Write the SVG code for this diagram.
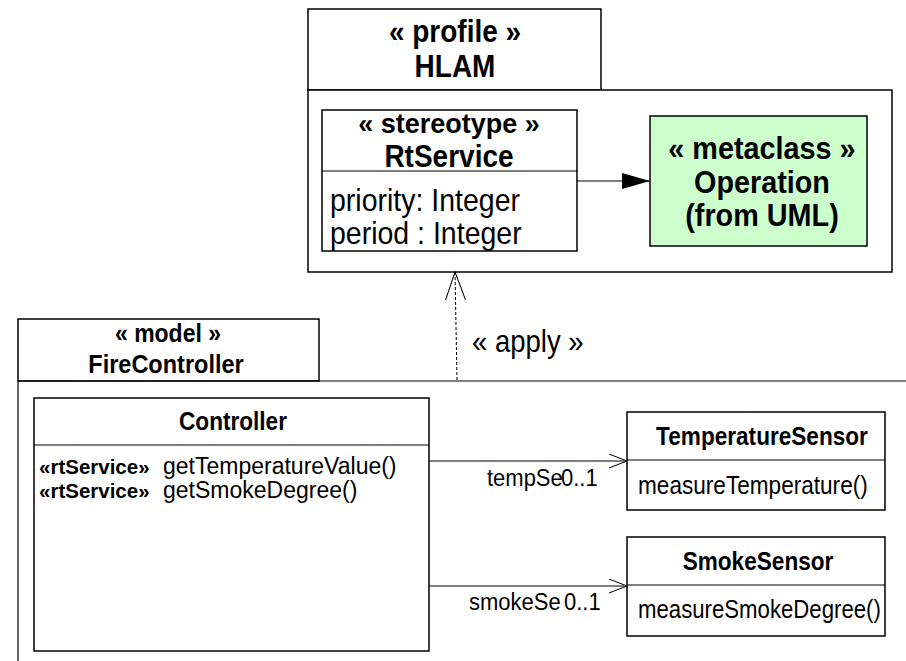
<svg xmlns="http://www.w3.org/2000/svg" width="906" height="661" viewBox="0 0 906 661">
<style>
.box{fill:#fff;stroke:#000;stroke-width:1.5}
.ln{stroke:#000;stroke-width:1.2;fill:none}
.t{font-family:"Liberation Sans",Arial,sans-serif;fill:#000;transform-box:fill-box;transform-origin:center;transform:scaleY(1.12)}
.n{transform:none}
.b{font-weight:bold}
.c{text-anchor:middle}
.m{font-size:22.6px}
</style>
<defs>
<marker id="tri" markerWidth="30" markerHeight="18" refX="28" refY="8" orient="auto" markerUnits="userSpaceOnUse">
<path d="M0,0 L28,8 L0,16 Z" fill="#000"/>
</marker>
<marker id="open" markerWidth="20" markerHeight="16" refX="18" refY="7" orient="auto" markerUnits="userSpaceOnUse">
<path d="M0,0 L18,7 L0,14" fill="none" stroke="#000" stroke-width="1"/>
</marker>
<marker id="openUp" markerWidth="30" markerHeight="22" refX="28" refY="10" orient="auto" markerUnits="userSpaceOnUse">
<path d="M0,0 L28,10 L0,20" fill="none" stroke="#000" stroke-width="1"/>
</marker>
</defs>

<g id="profile">
<rect class="box" x="308" y="9" width="293" height="81"/>
<rect class="box" x="308" y="90" width="584" height="182"/>
<text class="t b c" x="455" y="41" font-size="28">« profile »</text>
<text class="t b c" x="455" y="76" font-size="28">HLAM</text>
</g>

<g id="stereotype">
<rect class="box" x="322" y="110" width="255" height="141"/>
<line class="ln" x1="322" y1="171" x2="577" y2="171"/>
<text class="t n b c" x="449" y="133" font-size="27">« stereotype »</text>
<text class="t b c" x="449" y="166" font-size="28">RtService</text>
<text class="t" x="330" y="210" font-size="28.5">priority: Integer</text>
<text class="t" x="330" y="243" font-size="28.5">period : Integer</text>
</g>

<g id="metaclass">
<rect x="650" y="116" width="217" height="130" fill="#ccffcc" stroke="#000" stroke-width="1.5"/>
<text class="t b c" x="762" y="158" font-size="28.8">« metaclass »</text>
<text class="t b c" x="762" y="192" font-size="28.8">Operation</text>
<text class="t b c" x="762" y="225" font-size="28.8">(from UML)</text>
</g>

<g id="model">
<rect class="box" x="18" y="319" width="301" height="62"/>
<line class="ln" x1="18" y1="381" x2="906" y2="381"/>
<line class="ln" x1="18" y1="381" x2="18" y2="661"/>
<text class="t b c" x="168" y="341" font-size="23">« model »</text>
<text class="t b c" x="166" y="372" font-size="23.5">FireController</text>
</g>

<g id="controller">
<rect class="box" x="34" y="398" width="395" height="253"/>
<line class="ln" x1="34" y1="445" x2="429" y2="445"/>
<text class="t b c m" x="233" y="429">Controller</text>
<text class="t n b" x="39" y="474" font-size="20.5">«rtService»</text>
<text class="t n" x="163" y="474" font-size="23">getTemperatureValue()</text>
<text class="t n b" x="39" y="498" font-size="20.5">«rtService»</text>
<text class="t n" x="163" y="498" font-size="23">getSmokeDegree()</text>
</g>

<g id="temperatureSensor">
<rect class="box" x="627" y="412" width="258" height="98"/>
<line class="ln" x1="627" y1="460" x2="885" y2="460"/>
<text class="t b c m" x="762" y="444">TemperatureSensor</text>
<text class="t m" x="638" y="493">measureTemperature()</text>
</g>

<g id="smokeSensor">
<rect class="box" x="627" y="537" width="258" height="99"/>
<line class="ln" x1="627" y1="585" x2="885" y2="585"/>
<text class="t b c m" x="758" y="569">SmokeSensor</text>
<text class="t" x="638" y="617" font-size="22.2">measureSmokeDegree()</text>
</g>

<g id="connectors">
<line class="ln" x1="577" y1="181" x2="650" y2="181" marker-end="url(#tri)"/>
<line x1="457" y1="380" x2="455" y2="272" stroke="#000" stroke-width="1" stroke-dasharray="3,2" marker-end="url(#openUp)"/>
<text class="t" x="472" y="351" font-size="27.5">« apply »</text>
<line class="ln" x1="429" y1="461" x2="627" y2="461" marker-end="url(#open)"/>
<text class="t" x="487" y="485" font-size="22">tempSe</text>
<text class="t" x="561" y="485" font-size="22">0..1</text>
<line class="ln" x1="429" y1="586" x2="627" y2="586" marker-end="url(#open)"/>
<text class="t" x="469" y="609" font-size="22">smokeSe</text>
<text class="t" x="564" y="609" font-size="22">0..1</text>
</g>
</svg>
